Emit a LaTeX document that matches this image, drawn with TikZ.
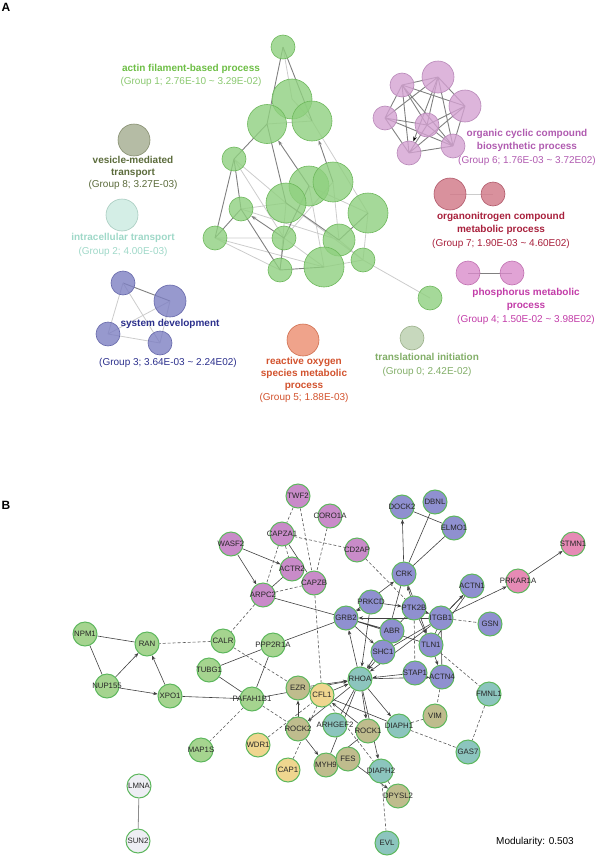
\documentclass[tikz,border=0pt]{standalone}
\usepackage{fontspec}
\setmainfont{Liberation Sans}
\usetikzlibrary{arrows.meta, backgrounds}
% panel A colours
\definecolor{ActFill}{HTML}{8FD07F}
\definecolor{ActRim}{HTML}{6DB85C}
\definecolor{ActText}{HTML}{6DBE45}
\definecolor{ActSoft}{HTML}{8AC870}
\definecolor{CycFill}{HTML}{D4A2D2}
\definecolor{CycRim}{HTML}{B888B8}
\definecolor{CycText}{HTML}{B05BB0}
\definecolor{NitFill}{HTML}{D07585}
\definecolor{NitRim}{HTML}{B05A6A}
\definecolor{NitText}{HTML}{A8203C}
\definecolor{PhoFill}{HTML}{D98CCB}
\definecolor{PhoRim}{HTML}{C070B0}
\definecolor{PhoText}{HTML}{C23CA8}
\definecolor{TriFill}{HTML}{B9CEAC}
\definecolor{TriRim}{HTML}{9AB08A}
\definecolor{TriText}{HTML}{82AE68}
\definecolor{RosFill}{HTML}{EB8C6E}
\definecolor{RosRim}{HTML}{D07050}
\definecolor{RosText}{HTML}{D2522D}
\definecolor{DevFill}{HTML}{7D7FC2}
\definecolor{DevRim}{HTML}{6668AA}
\definecolor{DevText}{HTML}{2B2F8C}
\definecolor{ItrFill}{HTML}{C9EAE0}
\definecolor{ItrRim}{HTML}{A8CCC0}
\definecolor{ItrText}{HTML}{9FD8C8}
\definecolor{VesFill}{HTML}{A3AB8E}
\definecolor{VesRim}{HTML}{868E70}
\definecolor{VesText}{HTML}{5B6B3B}
% panel B colours
\definecolor{GeneRim}{HTML}{5DB75D}
\definecolor{GenePurple}{HTML}{C98BC9}
\definecolor{GeneBlue}{HTML}{8F90D0}
\definecolor{GenePink}{HTML}{E68AB5}
\definecolor{GeneGreen}{HTML}{A5D48F}
\definecolor{GeneTeal}{HTML}{8CC5BE}
\definecolor{GeneOlive}{HTML}{BFBC8D}
\definecolor{GeneYellow}{HTML}{EFD68F}
\definecolor{GeneWhite}{HTML}{EEEEF4}
% gene names may spill over the circle
\newcommand{\gname}[1]{\makebox[0pt]{#1}}

\begin{document}
\begin{tikzpicture}[x=1pt, y=-1pt,
    term/.style={circle, inner sep=0pt, line width=0.6pt, fill opacity=0.8},
    glabel/.style={align=center, font=\fontsize{10}{13.5}\selectfont},
    sim/.style={line width=0.8pt, draw=black!20},
    simdark/.style={line width=0.9pt, draw=black!50},
    gene/.style={circle, inner sep=0pt, minimum size=24pt, line width=1pt, draw=GeneRim,
        font=\fontsize{7.8}{8}\selectfont, text=black!85},
    link/.style={line width=0.6pt, draw=black!75},
    arr/.style={line width=0.6pt, draw=black!75, -{Stealth[length=4.5pt,width=3.5pt]}},
    weak/.style={line width=0.6pt, draw=black!65, dash pattern=on 3pt off 2pt}]
    \useasboundingbox (0,0) rectangle (600,862);

    % Panel letters
    \node[font=\fontsize{12}{12}\selectfont\bfseries] (panelA) at (6,7) {A};
    \node[font=\fontsize{12}{12}\selectfont\bfseries] (panelB) at (6,505) {B};

    % Group 1: actin cluster
    \node[term, fill=ActFill, draw=ActRim, minimum size=24pt] (act1) at (283,47) {};
    \node[term, fill=ActFill, draw=ActRim, minimum size=40pt] (act2) at (292,99) {};
    \node[term, fill=ActFill, draw=ActRim, minimum size=39pt] (act3) at (267,124) {};
    \node[term, fill=ActFill, draw=ActRim, minimum size=40pt] (act4) at (312,121) {};
    \node[term, fill=ActFill, draw=ActRim, minimum size=24pt] (act5) at (234,159) {};
    \node[term, fill=ActFill, draw=ActRim, minimum size=40pt] (act6) at (309,186) {};
    \node[term, fill=ActFill, draw=ActRim, minimum size=40pt] (act7) at (333,182) {};
    \node[term, fill=ActFill, draw=ActRim, minimum size=40pt] (act8) at (286,203) {};
    \node[term, fill=ActFill, draw=ActRim, minimum size=40pt] (act9) at (368,213) {};
    \node[term, fill=ActFill, draw=ActRim, minimum size=24pt] (act10) at (241,209) {};
    \node[term, fill=ActFill, draw=ActRim, minimum size=24pt] (act11) at (215,238) {};
    \node[term, fill=ActFill, draw=ActRim, minimum size=24pt] (act12) at (284,238) {};
    \node[term, fill=ActFill, draw=ActRim, minimum size=32pt] (act13) at (339,240) {};
    \node[term, fill=ActFill, draw=ActRim, minimum size=24pt] (act14) at (280,270) {};
    \node[term, fill=ActFill, draw=ActRim, minimum size=40pt] (act15) at (324,267) {};
    \node[term, fill=ActFill, draw=ActRim, minimum size=24pt] (act16) at (363,260) {};
    \node[term, fill=ActFill, draw=ActRim, minimum size=24pt] (act17) at (430,298) {};
    \node[glabel, text=ActText] (lblAct) at (191,75.5)
        {\textbf{actin filament-based process}\\\textcolor{ActSoft}{(Group 1; 2.76E-10 \textasciitilde{} 3.29E-02)}};

    % Group 6: organic cyclic compound
    \node[term, fill=CycFill, draw=CycRim, minimum size=24pt] (cyc1) at (402,85) {};
    \node[term, fill=CycFill, draw=CycRim, minimum size=32pt] (cyc2) at (438,77) {};
    \node[term, fill=CycFill, draw=CycRim, minimum size=32pt] (cyc3) at (465,106) {};
    \node[term, fill=CycFill, draw=CycRim, minimum size=24pt] (cyc4) at (385,118) {};
    \node[term, fill=CycFill, draw=CycRim, minimum size=24pt] (cyc5) at (427,125) {};
    \node[term, fill=CycFill, draw=CycRim, minimum size=24pt] (cyc6) at (409,153) {};
    \node[term, fill=CycFill, draw=CycRim, minimum size=24pt] (cyc7) at (453,146) {};
    \node[glabel, text=CycText] (lblCyc) at (527,147)
        {\textbf{organic cyclic compound}\\\textbf{biosynthetic process}\\(Group 6; 1.76E-03 \textasciitilde{} 3.72E02)};

    % Group 7: organonitrogen
    \node[term, fill=NitFill, draw=NitRim, minimum size=32pt] (nit1) at (450,194) {};
    \node[term, fill=NitFill, draw=NitRim, minimum size=24pt] (nit2) at (493,194) {};
    \node[glabel, text=NitText] (lblNit) at (501,230)
        {\textbf{organonitrogen compound}\\\textbf{metabolic process}\\(Group 7; 1.90E-03 \textasciitilde{} 4.60E02)};

    % Group 4: phosphorus
    \node[term, fill=PhoFill, draw=PhoRim, minimum size=24pt] (pho1) at (468,273) {};
    \node[term, fill=PhoFill, draw=PhoRim, minimum size=24pt] (pho2) at (512,273) {};
    \node[glabel, text=PhoText] (lblPho) at (526,306)
        {\textbf{phosphorus metabolic}\\\textbf{process}\\(Group 4; 1.50E-02 \textasciitilde{} 3.98E02)};

    % Group 0 and Group 5
    \node[term, fill=TriFill, draw=TriRim, minimum size=24pt] (tri) at (412,338) {};
    \node[glabel, text=TriText] (lblTri) at (427,365)
        {\textbf{translational initiation}\\(Group 0; 2.42E-02)};
    \node[term, fill=RosFill, draw=RosRim, minimum size=32pt] (ros) at (303,340) {};
    \node[glabel, text=RosText, font=\fontsize{10}{12}\selectfont] (lblRos) at (304,380)
        {\textbf{reactive oxygen}\\\textbf{species metabolic}\\\textbf{process}\\(Group 5; 1.88E-03)};

    % Group 3: system development
    \node[term, fill=DevFill, draw=DevRim, minimum size=24pt] (dev1) at (123,283) {};
    \node[term, fill=DevFill, draw=DevRim, minimum size=32pt] (dev2) at (170,301) {};
    \node[term, fill=DevFill, draw=DevRim, minimum size=24pt] (dev3) at (108,334) {};
    \node[term, fill=DevFill, draw=DevRim, minimum size=24pt] (dev4) at (160,343) {};
    \node[glabel, text=DevText, font=\fontsize{10}{12}\selectfont\bfseries] (lblDev) at (170,324) {system development};
    \node[glabel, text=DevText] (lblDevGrp) at (168,363) {(Group 3; 3.64E-03 \textasciitilde{} 2.24E02)};

    % Group 2 and Group 8
    \node[term, fill=ItrFill, draw=ItrRim, minimum size=32pt] (itr) at (122,215) {};
    \node[glabel, text=ItrText] (lblItr) at (123,245)
        {\textbf{intracellular transport}\\(Group 2; 4.00E-03)};
    \node[term, fill=VesFill, draw=VesRim, minimum size=32pt] (ves) at (134,140) {};
    \node[glabel, text=VesText, font=\fontsize{10}{12}\selectfont] (lblVes) at (133,173)
        {\textbf{vesicle-mediated}\\\textbf{transport}\\(Group 8; 3.27E-03)};

    % Panel A links
    \begin{pgfonlayer}{background}
        \draw[sim] (act1.center) -- (act2.center) (act2.center) -- (act4.center)
            (act3.center) -- (act4.center) (act5.center) -- (act8.center)
            (act5.center) -- (act12.center) (act11.center) -- (act12.center)
            (act11.center) -- (act14.center) (act11.center) -- (act15.center)
            (act10.center) -- (act8.center) (act12.center) -- (act15.center)
            (act15.center) -- (act16.center) (act13.center) -- (act16.center)
            (act8.center) -- (act16.center) (act6.center) -- (act9.center)
            (act7.center) -- (act13.center) (act6.center) -- (act15.center)
            (act14.center) -- (act8.center) (act12.center) -- (act7.center)
            (act9.center) -- (act16.center) (act16.center) -- (act17.center)
            (act4.center) -- (act9.center) (act10.center) -- (act13.center);
        \draw[simdark] (act1.center) -- (act3.center) (act1.center) -- (act4.center)
            (act5.center) -- (act3.center) (act5.center) -- (act10.center)
            (act5.center) -- (act11.center) (act10.center) -- (act11.center)
            (act10.center) -- (act14.center) (act12.center) -- (act14.center)
            (act14.center) -- (act15.center) (act8.center) -- (act13.center)
            (act3.center) -- (act8.center) (act6.center) -- (act12.center)
            (act13.center) -- (act9.center);
        \draw[simdark, -{Stealth[length=5pt,width=3.5pt]}] (act6.center) -- (act3);
        \draw[simdark, -{Stealth[length=5pt,width=3.5pt]}] (act7.center) -- (act4);
        \draw[simdark, -{Stealth[length=5pt,width=3.5pt]}] (act12.center) -- (act10);
        \draw[simdark] (cyc1.center) -- (cyc2.center) (cyc1.center) -- (cyc3.center)
            (cyc1.center) -- (cyc4.center) (cyc1.center) -- (cyc5.center)
            (cyc1.center) -- (cyc6.center) (cyc1.center) -- (cyc7.center)
            (cyc2.center) -- (cyc3.center) (cyc2.center) -- (cyc4.center)
            (cyc2.center) -- (cyc5.center) (cyc2.center) -- (cyc7.center)
            (cyc3.center) -- (cyc5.center) (cyc3.center) -- (cyc6.center)
            (cyc3.center) -- (cyc7.center) (cyc4.center) -- (cyc5.center)
            (cyc4.center) -- (cyc6.center) (cyc4.center) -- (cyc7.center)
            (cyc5.center) -- (cyc6.center) (cyc5.center) -- (cyc7.center)
            (cyc6.center) -- (cyc7.center);
        \draw[simdark, -{Stealth[length=5pt,width=3.5pt,black]}] (cyc2.center) -- (cyc6);
        \draw[sim] (nit1.center) -- (nit2.center);
        \draw[simdark] (pho1.center) -- (pho2.center);
        \draw[simdark] (dev1.center) -- (dev2.center);
        \draw[sim] (dev1.center) -- (dev3.center) (dev1.center) -- (dev4.center)
            (dev2.center) -- (dev3.center) (dev2.center) -- (dev4.center)
            (dev3.center) -- (dev4.center);
    \end{pgfonlayer}

    % Panel B: genes
    \node[gene, fill=GenePurple] (TWF2) at (298,496) {\gname{TWF2}};
    \node[gene, fill=GenePurple] (CORO1A) at (330,516) {\gname{CORO1A}};
    \node[gene, fill=GenePurple] (CAPZA1) at (282,534) {\gname{CAPZA1}};
    \node[gene, fill=GenePurple] (WASF2) at (231,544) {\gname{WASF2}};
    \node[gene, fill=GenePurple] (CD2AP) at (357,550) {\gname{CD2AP}};
    \node[gene, fill=GenePurple] (ACTR2) at (292,569) {\gname{ACTR2}};
    \node[gene, fill=GenePurple] (CAPZB) at (314,583) {\gname{CAPZB}};
    \node[gene, fill=GenePurple] (ARPC2) at (263,595) {\gname{ARPC2}};
    \node[gene, fill=GeneBlue] (DOCK2) at (402,507) {\gname{DOCK2}};
    \node[gene, fill=GeneBlue] (DBNL) at (435,502) {\gname{DBNL}};
    \node[gene, fill=GeneBlue] (ELMO1) at (454,528) {\gname{ELMO1}};
    \node[gene, fill=GeneBlue] (CRK) at (404,574) {\gname{CRK}};
    \node[gene, fill=GeneBlue] (ACTN1) at (472,586) {\gname{ACTN1}};
    \node[gene, fill=GeneBlue] (PRKCD) at (371,602) {\gname{PRKCD}};
    \node[gene, fill=GeneBlue] (PTK2B) at (414,608) {\gname{PTK2B}};
    \node[gene, fill=GeneBlue] (GRB2) at (346,618) {\gname{GRB2}};
    \node[gene, fill=GeneBlue] (ITGB1) at (441,618) {\gname{ITGB1}};
    \node[gene, fill=GeneBlue] (GSN) at (490,624) {\gname{GSN}};
    \node[gene, fill=GeneBlue] (ABR) at (392,631) {\gname{ABR}};
    \node[gene, fill=GeneBlue] (TLN1) at (431,645) {\gname{TLN1}};
    \node[gene, fill=GeneBlue] (SHC1) at (383,652) {\gname{SHC1}};
    \node[gene, fill=GeneBlue] (STAP1) at (415,673) {\gname{STAP1}};
    \node[gene, fill=GeneBlue] (ACTN4) at (442,677) {\gname{ACTN4}};
    \node[gene, fill=GenePink] (PRKAR1A) at (518,581) {\gname{PRKAR1A}};
    \node[gene, fill=GenePink] (STMN1) at (573,544) {\gname{STMN1}};
    \node[gene, fill=GeneGreen] (NPM1) at (85,634) {\gname{NPM1}};
    \node[gene, fill=GeneGreen] (RAN) at (147,644) {\gname{RAN}};
    \node[gene, fill=GeneGreen] (CALR) at (223,641) {\gname{CALR}};
    \node[gene, fill=GeneGreen] (PPP2R1A) at (273,645) {\gname{PPP2R1A}};
    \node[gene, fill=GeneGreen] (TUBG1) at (209,670) {\gname{TUBG1}};
    \node[gene, fill=GeneGreen] (NUP155) at (107,686) {\gname{NUP155}};
    \node[gene, fill=GeneGreen] (XPO1) at (170,696) {\gname{XPO1}};
    \node[gene, fill=GeneGreen] (PAFAH1B1) at (252,699) {\gname{PAFAH1B1}};
    \node[gene, fill=GeneGreen] (MAP1S) at (201,750) {\gname{MAP1S}};
    \node[gene, fill=GeneTeal] (RHOA) at (360,679) {\gname{RHOA}};
    \node[gene, fill=GeneTeal] (FMNL1) at (489,694) {\gname{FMNL1}};
    \node[gene, fill=GeneTeal] (GAS7) at (468,752) {\gname{GAS7}};
    \node[gene, fill=GeneTeal] (EVL) at (387,843) {\gname{EVL}};
    \node[gene, fill=GeneOlive] (EZR) at (298,688) {\gname{EZR}};
    \node[gene, fill=GeneYellow] (CFL1) at (322,695) {\gname{CFL1}};
    \node[gene, fill=GeneOlive] (VIM) at (435,716) {\gname{VIM}};
    \node[gene, fill=GeneOlive] (ROCK2) at (298,729) {\gname{ROCK2}};
    \node[gene, fill=GeneTeal] (ARHGEF2) at (335,725) {\gname{ARHGEF2}};
    \node[gene, fill=GeneOlive] (ROCK1) at (368,731) {\gname{ROCK1}};
    \node[gene, fill=GeneTeal] (DIAPH1) at (399,726) {\gname{DIAPH1}};
    \node[gene, fill=GeneYellow] (WDR1) at (258,745) {\gname{WDR1}};
    \node[gene, fill=GeneYellow] (CAP1) at (288,770) {\gname{CAP1}};
    \node[gene, fill=GeneOlive] (MYH9) at (326,765) {\gname{MYH9}};
    \node[gene, fill=GeneOlive] (FES) at (348,759) {\gname{FES}};
    \node[gene, fill=GeneTeal] (DIAPH2) at (381,771) {\gname{DIAPH2}};
    \node[gene, fill=GeneOlive] (DPYSL2) at (398,796) {\gname{DPYSL2}};
    \node[gene, fill=GeneWhite] (LMNA) at (139,786) {\gname{LMNA}};
    \node[gene, fill=GeneWhite] (SUN2) at (138,841) {\gname{SUN2}};

    \node[font=\fontsize{10}{12}\selectfont] (modularity) at (535,842) {Modularity: 0.503};

    % Panel B: interactions
    \begin{pgfonlayer}{background}
        \draw[link] (CAPZA1) -- (CAPZB) (ACTR2) -- (ARPC2) (ARPC2) -- (GRB2)
            (NPM1) -- (RAN) (NPM1) -- (NUP155) (XPO1) -- (PAFAH1B1)
            (TUBG1) -- (PPP2R1A) (TUBG1) -- (PAFAH1B1) (PPP2R1A) -- (PAFAH1B1)
            (PPP2R1A) -- (GRB2) (CRK) -- (DBNL) (CRK) -- (ELMO1) (DOCK2) -- (ELMO1)
            (CRK) -- (SHC1) (GRB2) -- (ABR) (GRB2) -- (TLN1) (ITGB1) -- (TLN1)
            (ITGB1) -- (ACTN4) (ITGB1) -- (ACTN1) (SHC1) -- (ITGB1) (ABR) -- (PTK2B)
            (RHOA) -- (ARHGEF2) (CFL1) -- (DIAPH1) (RHOA) -- (MYH9) (ACTN1) -- (TLN1);
        \draw[link, black!45, line width=0.8pt] (LMNA) -- (SUN2);
        \draw[arr] (WASF2) -- (ACTR2);
        \draw[arr] (WASF2) -- (ARPC2);
        \draw[arr] (NUP155) -- (RAN);
        \draw[arr] (NUP155) -- (XPO1);
        \draw[arr] (XPO1) -- (RAN);
        \draw[arr] (PAFAH1B1) -- (RHOA);
        \draw[arr] (ROCK2) -- (EZR);
        \draw[arr] (EZR) -- (RHOA);
        \draw[arr] (CFL1) -- (RHOA);
        \draw[arr] (RHOA) -- (ROCK2);
        \draw[arr] (RHOA) -- (ROCK1);
        \draw[arr] (RHOA) -- (DIAPH1);
        \draw[arr] (RHOA) -- (DIAPH2);
        \draw[arr] (ROCK2) -- (MYH9);
        \draw[arr] (ROCK1) -- (MYH9);
        \draw[arr] (ROCK1) -- (CFL1);
        \draw[arr] (FES) -- (DPYSL2);
        \draw[arr] (CRK) -- (DOCK2);
        \draw[arr] (GRB2) -- (CRK);
        \draw[arr] (PTK2B) -- (CRK);
        \draw[arr] (CRK) -- (TLN1);
        \draw[arr] (PRKCD) -- (GRB2);
        \draw[arr] (PRKCD) -- (PTK2B);
        \draw[arr] (PTK2B) -- (ITGB1);
        \draw[arr] (ITGB1) -- (GRB2);
        \draw[arr] (ITGB1) -- (ACTN1);
        \draw[arr] (ITGB1) -- (PRKAR1A);
        \draw[arr] (PRKAR1A) -- (STMN1);
        \draw[arr] (PTK2B) -- (TLN1);
        \draw[arr] (RHOA) -- (GRB2);
        \draw[arr] (PRKCD) -- (RHOA);
        \draw[arr] (ABR) -- (RHOA);
        \draw[arr] (SHC1) -- (RHOA);
        \draw[arr] (GRB2) -- (SHC1);
        \draw[arr] (STAP1) -- (RHOA);
        \draw[arr] (RHOA) -- (ACTN4);
        \draw[arr] (TLN1) -- (ACTN4);
        \draw[arr] (ITGB1) -- (RHOA);
        \draw[weak] (TWF2) -- (CAPZA1) (TWF2) -- (CAPZB) (CORO1A) -- (CAPZB)
            (CAPZA1) -- (CD2AP) (CAPZA1) -- (ARPC2) (CAPZA1) -- (ACTR2)
            (ARPC2) -- (CAPZB) (ARPC2) -- (CALR) (CALR) -- (RAN) (CALR) -- (EZR)
            (PAFAH1B1) -- (MAP1S) (PAFAH1B1) -- (ROCK2) (WDR1) -- (CFL1)
            (CAP1) -- (CFL1) (CAPZB) -- (CFL1) (CD2AP) -- (PTK2B) (PTK2B) -- (STAP1)
            (ITGB1) -- (GSN) (TLN1) -- (FMNL1) (FMNL1) -- (GAS7) (DIAPH1) -- (VIM)
            (DIAPH1) -- (GAS7) (ACTN4) -- (VIM) (DIAPH2) -- (DPYSL2)
            (DIAPH2) -- (EVL) (CFL1) -- (DIAPH2);
    \end{pgfonlayer}
\end{tikzpicture}
\end{document}
